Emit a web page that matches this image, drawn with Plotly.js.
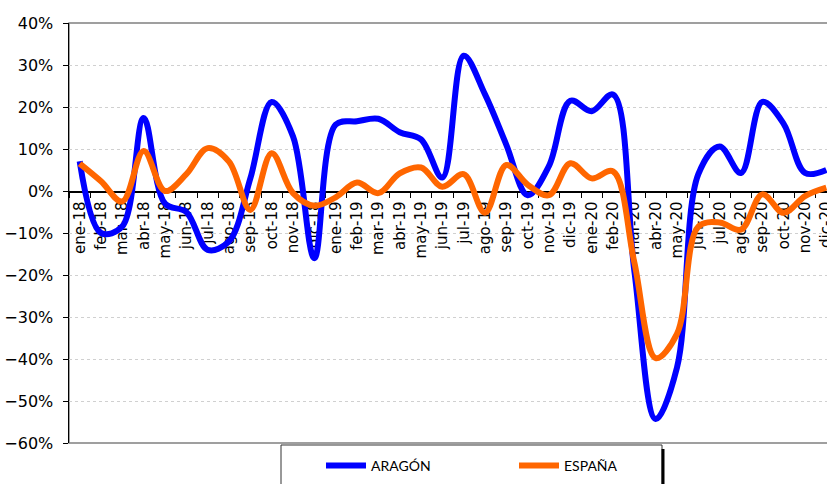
<!DOCTYPE html>
<html>
<head>
<meta charset="utf-8">
<script src="https://cdn.plot.ly/plotly-3.0.1.min.js"></script>
<style>
html,body{margin:0;padding:0;overflow:hidden;background:#fff;}
#chart{width:840px;height:484px;}
</style>
</head>
<body>
<div id="chart"></div>
<script>
var months = ["ene-18","feb-18","mar-18","abr-18","may-18","jun-18","jul-18","ago-18","sep-18","oct-18","nov-18","dic-18",
              "ene-19","feb-19","mar-19","abr-19","may-19","jun-19","jul-19","ago-19","sep-19","oct-19","nov-19","dic-19",
              "ene-20","feb-20","mar-20","abr-20","may-20","jun-20","jul-20","ago-20","sep-20","oct-20","nov-20","dic-20"];
var aragon = [7.1,-10,-8.4,17.4,-3,-5,-14,-12,3,21.2,13,-16,
              15.8,16.6,17.2,14,12.3,3.2,32.2,23,11,-1,6,21.5,
              19,23,-19,-54.3,-42,4,10.6,4.3,21.2,16,4.3,5];
var espana = [6.5,2.3,-2.5,9.5,0,4,10.2,7,-4.5,9,-0.5,-3.5,
              -1.5,2,-0.5,4.2,5.6,1,4,-5.2,6.2,1.5,-1,6.6,
              3,4.7,-17,-39.8,-34,-8.5,-7.5,-9.2,-0.8,-5.2,-1.2,0.8];

var toFrac = function(a){ return a.map(function(v){ return v/100; }); };

var traces = [
  {x: months, y: toFrac(aragon), name: "ARAGÓN", type: "scatter", mode: "lines",
   line: {color: "#0000FF", width: 6, shape: "spline", smoothing: 1}},
  {x: months, y: toFrac(espana), name: "ESPAÑA", type: "scatter", mode: "lines",
   line: {color: "#FF6600", width: 6, shape: "spline", smoothing: 1}}
];

var layout = {
  width: 840, height: 484,
  margin: {l: 69, r: 3, t: 23, b: 40},
  paper_bgcolor: "#fff", plot_bgcolor: "#fff",
  showlegend: true,
  xaxis: {
    type: "category", anchor: "free", position: 0.6,
    range: [-0.5, months.length - 0.5], autorange: false,
    tickson: "boundaries", ticks: "outside", ticklen: 5, tickcolor: "#000",
    showline: true, linecolor: "#000", linewidth: 1.5,
    tickangle: -90, showgrid: false, zeroline: false,
    ticklabelstandoff: 3,
    tickfont: {family: "DejaVu Sans", size: 15, color: "#000"},
    layer: "below traces", fixedrange: true
  },
  yaxis: {
    range: [-0.6, 0.4], dtick: 0.1, tick0: 0, tickformat: ".0%",
    ticks: "outside", ticklen: 5, tickcolor: "#000",
    showline: true, linecolor: "#000", linewidth: 1.5,
    showgrid: true, gridcolor: "#d0d0d0", griddash: "dot", gridwidth: 1,
    zeroline: false, ticklabelstandoff: 6,
    tickfont: {family: "DejaVu Sans", size: 16, color: "#000"},
    fixedrange: true
  },
  shapes: [
    {type: "rect", xref: "paper", yref: "paper", x0: 0, x1: 1, y0: 0, y1: 1,
     line: {color: "#808080", width: 1.5}, layer: "below"},
    {type: "rect", xref: "paper", yref: "paper",
     x0: (281-69)/768, x1: (662-69)/768, y0: (444-500)/421, y1: (444-446)/421,
     line: {color: "#333", width: 1}, fillcolor: "rgba(0,0,0,0)", layer: "above"},
    {type: "line", xref: "paper", yref: "paper",
     x0: (663-69)/768, x1: (663-69)/768, y0: (444-450)/421, y1: (444-500)/421,
     line: {color: "#000", width: 3}}
  ],
  legend: {
    orientation: "h", xref: "paper", yref: "paper",
    x: (321-69)/768, xanchor: "left", y: (444-466)/421, yanchor: "middle",
    font: {family: "Lato", size: 14, color: "#000"},
    bgcolor: "rgba(0,0,0,0)", borderwidth: 0,
    entrywidth: 138, entrywidthmode: "pixels", itemwidth: 40
  }
};

Plotly.newPlot("chart", traces, layout, {displayModeBar: false, staticPlot: true});
</script>
</body>
</html>
